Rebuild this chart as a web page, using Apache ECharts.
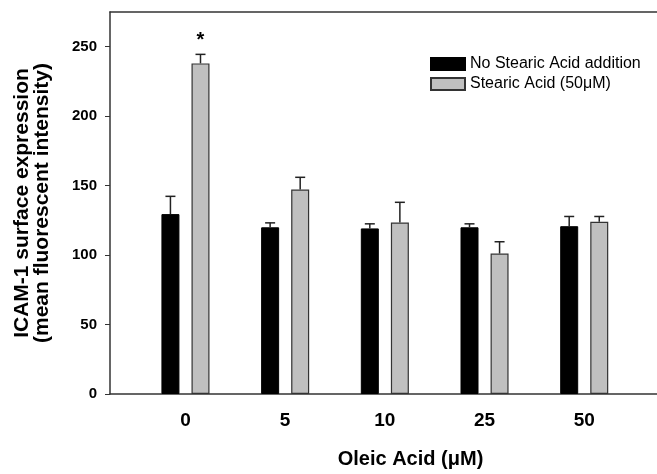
<!DOCTYPE html>
<html>
<head>
<meta charset="utf-8">
<script src="https://cdn.jsdelivr.net/npm/echarts@6/dist/echarts.min.js"></script>
<style>
	html, body { margin: 0; padding: 0; background: #fff; }
	#chart1 { width: 657px; height: 474px; }
</style>
</head>
<body>
<div id="chart1"></div>
<script>
// 数据
var categories = ['0', '5', '10', '25', '50'];
var noStearic = [129.5, 120, 119.2, 120, 120.8];
var noStearicErr = [12.8, 3.2, 3.3, 2.5, 7];
var stearic = [238, 147.2, 123.5, 101.1, 124];
var stearicErr = [6.5, 8.8, 14.5, 8.5, 3.8];
var sigMarks = ['*', '', '', '', ''];
var yTicks = [0, 50, 100, 150, 200, 250];
var seriesNames = ['No Stearic Acid addition', 'Stearic Acid (50\u03bcM)'];

var font = 'Liberation Sans, Arial, sans-serif';
var barW = 18;
var barGap = 0.67;
var half = barW * (1 + barGap) / 2; // 柱子中心相对类目中心的偏移

function pairs(vals, errs) {
	return vals.map(function(v, i) { return [i, v, errs ? errs[i] : 0]; });
}

// 误差线（只画向上）
function errorBar(dx, marks) {
	return function(params, api) {
		var x = api.value(0), v = api.value(1), e = api.value(2);
		var base = api.coord([x, v]);
		var top = api.coord([x, v + e]);
		var cx = base[0] + dx;
		var style = { stroke: '#222', lineWidth: 1.5 };
		var children = [
			{ type: 'line', shape: { x1: cx, y1: base[1], x2: cx, y2: top[1] }, style: style },
			{ type: 'line', shape: { x1: cx - 5, y1: top[1], x2: cx + 5, y2: top[1] }, style: style }
		];
		if (marks && marks[params.dataIndex]) {
			children.push({
				type: 'text',
				x: cx, y: top[1] - 4,
				style: { text: marks[params.dataIndex], textAlign: 'center', textVerticalAlign: 'bottom',
					font: 'bold 20px ' + font, fill: '#000' }
			});
		}
		return { type: 'group', children: children };
	};
}

var myChart1 = echarts.init(document.getElementById('chart1'));
var option1 = {
	animation: false,
	grid: { left: 110, right: 0, top: 12, bottom: 79 },
	legend: {
		data: seriesNames,
		orient: 'vertical',
		left: 425,
		top: 51,
		icon: 'rect',
		itemWidth: 34,
		itemHeight: 12,
		itemGap: 4,
		textStyle: { fontFamily: font, fontSize: 16, color: '#000', lineHeight: 16 }
	},
	xAxis: [{
		type: 'value',
		min: -0.757,
		max: 4.73,
		name: 'Oleic Acid (\u03bcM)',
		nameLocation: 'middle',
		nameGap: 55,
		nameTextStyle: { fontFamily: font, fontSize: 20, fontWeight: 'bold', color: '#000', padding: [0, 0, 0, 54] },
		axisLine: { show: true, onZero: false, lineStyle: { color: '#333', width: 1.5 } },
		axisTick: { show: false },
		splitLine: { show: false },
		axisLabel: {
			customValues: [0, 1, 2, 3, 4],
			formatter: function(v) { return categories[Math.round(v)]; },
			fontFamily: font, fontSize: 19, fontWeight: 'bold', color: '#000', margin: 17
		}
	}, {
		type: 'value',
		position: 'top',
		min: -0.757,
		max: 4.73,
		axisLine: { show: true, onZero: false, lineStyle: { color: '#333', width: 1.5 } },
		axisTick: { show: false },
		axisLabel: { show: false },
		splitLine: { show: false }
	}],
	yAxis: {
		type: 'value',
		min: 0,
		max: 275,
		name: 'ICAM-1 surface expression\n(mean fluorescent intensity)',
		nameLocation: 'middle',
		nameRotate: 90,
		nameGap: 58,
		nameTextStyle: { fontFamily: font, fontSize: 21, fontWeight: 'bold', color: '#000', lineHeight: 20 },
		axisLine: { show: true, onZero: false, lineStyle: { color: '#333', width: 1.5 } },
		axisTick: { show: true, length: 5, customValues: yTicks, lineStyle: { color: '#333' } },
		splitLine: { show: false },
		axisLabel: { customValues: yTicks, fontFamily: font, fontSize: 15, fontWeight: 'bold', color: '#000', margin: 13 }
	},
	series: [{
		name: seriesNames[0],
		type: 'bar',
		barWidth: barW,
		barGap: (barGap * 100) + '%',
		data: pairs(noStearic),
		itemStyle: { color: '#000', borderColor: '#000', borderWidth: 1 }
	}, {
		name: seriesNames[1],
		type: 'bar',
		barWidth: barW,
		barGap: (barGap * 100) + '%',
		data: pairs(stearic),
		itemStyle: { color: '#c0c0c0', borderColor: '#333', borderWidth: 1.2 }
	}, {
		type: 'custom',
		z: 5,
		renderItem: errorBar(-half),
		data: pairs(noStearic, noStearicErr)
	}, {
		type: 'custom',
		z: 5,
		renderItem: errorBar(half, sigMarks),
		data: pairs(stearic, stearicErr)
	}]
};
myChart1.setOption(option1);
</script>
</body>
</html>
